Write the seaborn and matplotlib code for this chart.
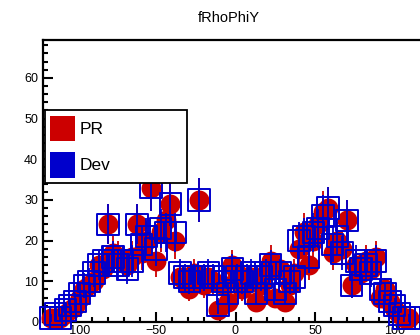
import numpy as np
import matplotlib
matplotlib.use("Agg")
import matplotlib.pyplot as plt
from matplotlib.ticker import MultipleLocator
from matplotlib.patches import Rectangle
import seaborn as sns

# Estilo
sns.set_style("ticks")
plt.rcParams['font.family'] = ['Liberation Sans', 'DejaVu Sans']
plt.rcParams['text.color'] = 'black'

# Dados (centros dos bins e contagens)
bins = [-116, -113, -110, -107, -104, -101, -98, -95, -92, -89, -86, -83, -80, -77, -74,
        -71, -68, -65, -62, -59, -56, -53, -50, -47, -44, -41, -38, -35, -32, -29,
        -26, -23, -20, -17, -14, -11, -8, -5, -2, 1, 4, 7, 10, 13, 16,
        19, 22, 25, 28, 31, 34, 37, 40, 43, 46, 49, 52, 55, 58, 61,
        64, 67, 70, 73, 76, 79, 82, 85, 88, 91, 94, 97, 100, 103, 106, 109]
pr_counts = [1, 1, 1, 2, 3, 4, 6, 8, 9, 10, 14, 13, 24, 17, 16,
             15, 14, 16, 24, 17, 20, 33, 15, 22, 25, 29, 20, 11, 10, 8,
             12, 30, 9, 11, 10, 3, 9, 5, 14, 12, 8, 10, 11, 5, 9,
             12, 15, 6, 13, 5, 9, 12, 18, 22, 14, 20, 24, 27, 28, 17,
             20, 18, 25, 9, 14, 12, 15, 13, 16, 6, 8, 5, 3, 2, 1, 1]
dev_counts = [1, 2, 1, 3, 4, 5, 7, 9, 10, 12, 14, 15, 24, 16, 14,
              15, 13, 15, 24, 19, 21, 33, 18, 23, 22, 29, 22, 12, 11, 10,
              11, 30, 11, 12, 11, 4, 10, 7, 13, 11, 10, 11, 12, 7, 11,
              12, 14, 8, 12, 7, 10, 11, 20, 21, 16, 22, 23, 26, 28, 19,
              21, 17, 25, 9, 15, 13, 14, 12, 15, 8, 7, 5, 4, 2, 1, 1]
labels = ["PR", "Dev"]
title = "fRhoPhiY"

red = '#cc0000'
blue = '#0000cc'

# erros de Poisson
pr_err = np.sqrt(pr_counts)
dev_err = np.sqrt(dev_counts)

fig = plt.figure(figsize=(4.2, 3.35), dpi=100)
ax = fig.add_axes([43 / 420, 13 / 335, 385 / 420, 282 / 335])

# PR: círculos vermelhos cheios
ax.errorbar(bins, pr_counts, yerr=pr_err, fmt='none', ecolor=red, elinewidth=1.3, capsize=0, zorder=2)
sns.scatterplot(x=bins, y=pr_counts, marker='o', s=205, color=red, edgecolor=red,
                linewidth=0, ax=ax, zorder=3, clip_on=False)

# Dev: quadrados azuis abertos
ax.errorbar(bins, dev_counts, yerr=dev_err, fmt='none', ecolor=blue, elinewidth=1.3, capsize=0, zorder=4)
sns.scatterplot(x=bins, y=dev_counts, marker='s', s=240, facecolor='none', edgecolor=blue,
                linewidth=1.4, ax=ax, zorder=5, clip_on=False)

ax.set_xlim(-121, 121)
ax.set_ylim(0, 69.3)
ax.xaxis.set_major_locator(MultipleLocator(50))
ax.xaxis.set_minor_locator(MultipleLocator(10))
ax.yaxis.set_major_locator(MultipleLocator(10))
ax.yaxis.set_minor_locator(MultipleLocator(2))
ax.tick_params(which='both', direction='in', width=1.5, labelsize=9, colors='black')
ax.tick_params(which='major', length=7)
ax.tick_params(which='minor', length=3.5)
ax.tick_params(axis='y', pad=3.5)
ax.tick_params(axis='x', pad=2)
for side in ['left', 'top', 'bottom', 'right']:
    ax.spines[side].set_linewidth(1.6)
    ax.spines[side].set_color('black')
ax.set_xlabel("")
ax.set_ylabel("")

# Título
fig.text(229 / 420, 1 - 18 / 335, title, ha='center', va='center', fontsize=10.5, color='black')

# Legenda desenhada à mão (estilo ROOT)
def fx(px):
    return px / 420

def fy(py):
    return 1 - py / 335

fig.patches.append(Rectangle((fx(45), fy(183)), fx(142), 73 / 335, transform=fig.transFigure,
                             facecolor='white', edgecolor='black', linewidth=1.3, zorder=10))
fig.patches.append(Rectangle((fx(50), fy(141)), fx(25), 25 / 335, transform=fig.transFigure,
                             facecolor=red, edgecolor='none', zorder=11))
fig.patches.append(Rectangle((fx(50), fy(178)), fx(25), 26 / 335, transform=fig.transFigure,
                             facecolor=blue, edgecolor='none', zorder=11))
fig.text(fx(80), fy(129), labels[0], ha='left', va='center', fontsize=12.5, color='black', zorder=12)
fig.text(fx(80), fy(166), labels[1], ha='left', va='center', fontsize=12.5, color='black', zorder=12)

plt.savefig("out.png", dpi=100)
